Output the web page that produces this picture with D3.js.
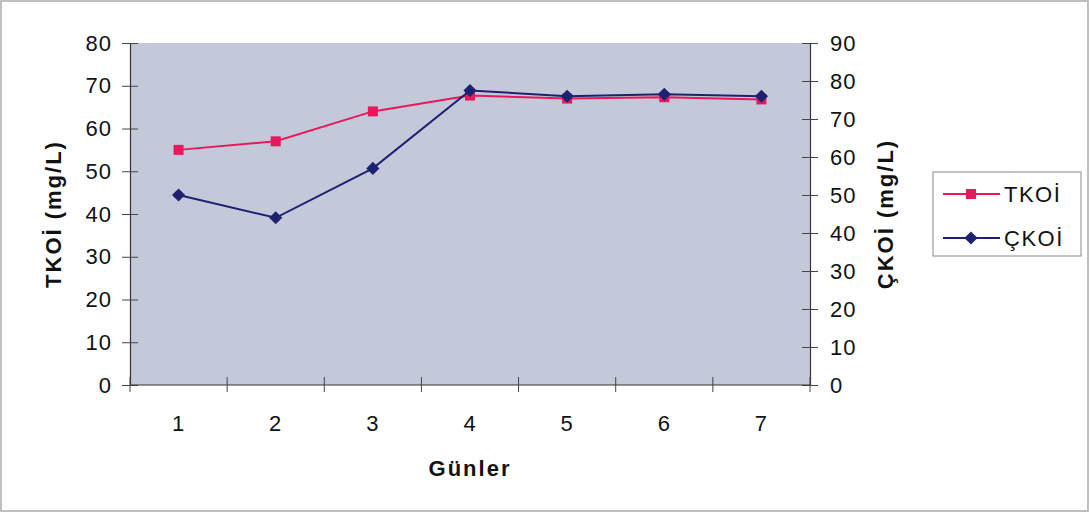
<!DOCTYPE html>
<html>
<head>
<meta charset="utf-8">
<script src="https://cdn.jsdelivr.net/npm/d3@7"></script>
<style>
  body { margin: 0; background: #fff; }
  svg text { font-family: "Liberation Sans", Arial, sans-serif; fill: #111; }
</style>
</head>
<body>
<div id="chart"></div>
<script>
var days = [1, 2, 3, 4, 5, 6, 7];
var tkoi = [55, 57, 64, 67.7, 67, 67.3, 66.8];
var ckoi = [50, 44, 57, 77.5, 76, 76.5, 76];
var leftTicks = [0, 10, 20, 30, 40, 50, 60, 70, 80];
var rightTicks = [0, 10, 20, 30, 40, 50, 60, 70, 80, 90];

var W = 1090, H = 514;
var plot = { left: 130, right: 810, top: 43, bottom: 385 };

var svg = d3.select('#chart').append('svg').attr('width', W).attr('height', H);

// outer frame
svg.append('rect').attr('x', 1).attr('y', 1).attr('width', W - 3).attr('height', H - 4)
    .attr('fill', '#fff').attr('stroke', '#aaa').attr('stroke-width', 1.5);

var x = d3.scaleBand().domain(days).range([plot.left, plot.right]);
var yL = d3.scaleLinear().domain([0, 80]).range([plot.bottom, plot.top]);
var yR = d3.scaleLinear().domain([0, 90]).range([plot.bottom, plot.top]);

svg.append('rect')
    .attr('x', plot.left).attr('y', plot.top)
    .attr('width', plot.right - plot.left).attr('height', plot.bottom - plot.top)
    .attr('fill', '#c4c9da');

// left axis
var gl = svg.append('g').attr('transform', 'translate(' + plot.left + ',0)')
    .call(d3.axisLeft(yL).tickValues(leftTicks).tickSize(8).tickPadding(10));
gl.selectAll('.tick line').attr('x2', -8).attr('x1', 8);
// right axis
var gr = svg.append('g').attr('transform', 'translate(' + plot.right + ',0)')
    .call(d3.axisRight(yR).tickValues(rightTicks).tickSize(8).tickPadding(12));
gr.selectAll('.tick line').attr('x1', -8).attr('x2', 8);
// bottom axis
var gb = svg.append('g').attr('transform', 'translate(0,' + plot.bottom + ')')
    .call(d3.axisBottom(x).tickSize(0).tickPadding(30));
// category boundary ticks
gb.selectAll('.sep').data(d3.range(days.length + 1)).enter().append('line')
    .attr('x1', function(i) { return plot.left + i * x.step(); })
    .attr('x2', function(i) { return plot.left + i * x.step(); })
    .attr('y1', -8).attr('y2', 7).attr('stroke', '#444');

[gl, gr, gb].forEach(function(g) {
    g.select('.domain').attr('stroke', '#333').attr('stroke-width', 1.2);
    g.selectAll('.tick line').attr('stroke', '#444');
    g.selectAll('.tick text').attr('font-size', 22).attr('letter-spacing', 1).style('fill', '#111')
        .attr('font-family', '"Liberation Sans", Arial, sans-serif');
});
gb.select('.domain').attr('d', 'M' + plot.left + ',0H' + plot.right);

var cx = function(d, i) { return x(days[i]) + x.bandwidth() / 2; };

// TKOI series
var lineL = d3.line().x(cx).y(function(d) { return yL(d); });
svg.append('path').attr('d', lineL(tkoi)).attr('fill', 'none')
    .attr('stroke', '#e8195b').attr('stroke-width', 2);
svg.selectAll('.sq').data(tkoi).enter().append('rect')
    .attr('x', function(d, i) { return cx(d, i) - 5; })
    .attr('y', function(d) { return yL(d) - 5; })
    .attr('width', 10).attr('height', 10).attr('fill', '#e8195b');

// CKOI series
var lineR = d3.line().x(cx).y(function(d) { return yR(d); });
svg.append('path').attr('d', lineR(ckoi)).attr('fill', 'none')
    .attr('stroke', '#1d2170').attr('stroke-width', 2);
svg.selectAll('.dm').data(ckoi).enter().append('path')
    .attr('d', d3.symbol().type(d3.symbolDiamond2).size(110))
    .attr('transform', function(d, i) { return 'translate(' + cx(d, i) + ',' + yR(d) + ')'; })
    .attr('fill', '#1d2170');

// axis titles
svg.append('text').attr('transform', 'translate(61,' + ((plot.top + plot.bottom) / 2) + ') rotate(-90)')
    .attr('text-anchor', 'middle').attr('font-size', 22).attr('letter-spacing', 2)
    .attr('font-weight', 'bold').text('TKOİ (mg/L)');
svg.append('text').attr('transform', 'translate(893,' + ((plot.top + plot.bottom) / 2) + ') rotate(-90)')
    .attr('text-anchor', 'middle').attr('font-size', 22).attr('letter-spacing', 2)
    .attr('font-weight', 'bold').text('ÇKOİ (mg/L)');
svg.append('text').attr('x', (plot.left + plot.right) / 2).attr('y', 476)
    .attr('text-anchor', 'middle').attr('font-size', 22).attr('letter-spacing', 2)
    .attr('font-weight', 'bold').text('Günler');

// legend
var lg = svg.append('g');
lg.append('rect').attr('x', 933).attr('y', 172).attr('width', 148).attr('height', 84)
    .attr('fill', '#fff').attr('stroke', '#888');
var legendItems = [
    { name: 'TKOİ', color: '#e8195b', y: 194, shape: 'sq' },
    { name: 'ÇKOİ', color: '#1d2170', y: 238, shape: 'dm' }
];
legendItems.forEach(function(it) {
    lg.append('line').attr('x1', 943).attr('x2', 1000).attr('y1', it.y).attr('y2', it.y)
        .attr('stroke', it.color).attr('stroke-width', 2);
    if (it.shape === 'sq') {
        lg.append('rect').attr('x', 966).attr('y', it.y - 5).attr('width', 10).attr('height', 10).attr('fill', it.color);
    } else {
        lg.append('path').attr('d', d3.symbol().type(d3.symbolDiamond2).size(110))
            .attr('transform', 'translate(971,' + it.y + ')').attr('fill', it.color);
    }
    lg.append('text').attr('x', 1004).attr('y', it.y + 8).attr('font-size', 22)
        .attr('letter-spacing', 1.5).text(it.name);
});
</script>
</body>
</html>
